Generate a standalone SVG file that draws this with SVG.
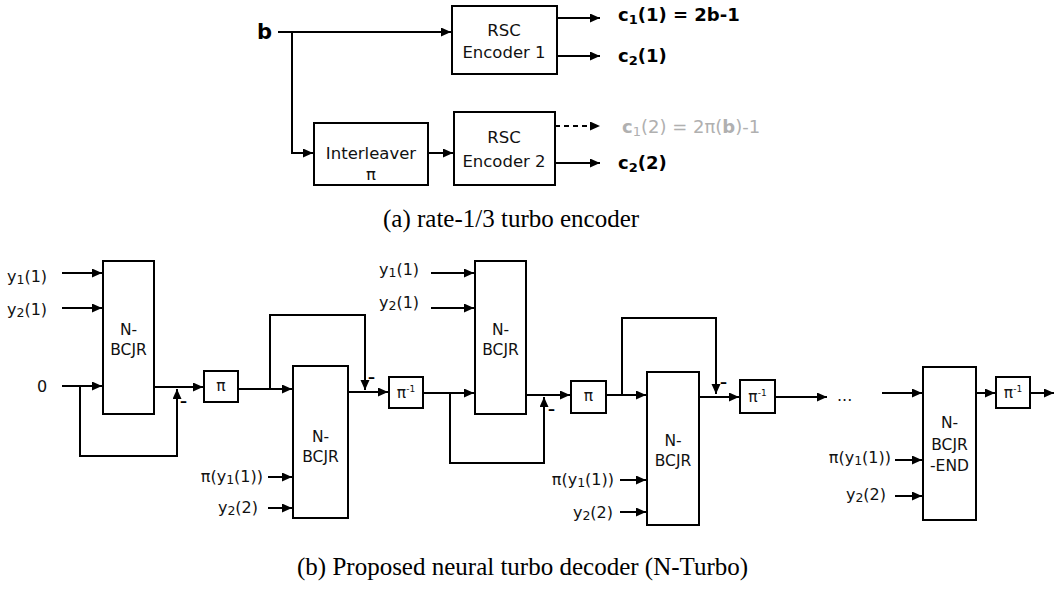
<svg xmlns="http://www.w3.org/2000/svg" width="1055" height="590" viewBox="0 0 1055 590">
<style>
.box{fill:#fff;stroke:#000;stroke-width:2}
.ln{fill:none;stroke:#000;stroke-width:2}
.ar{fill:none;stroke:#000;stroke-width:2;marker-end:url(#ah)}
.dash{fill:none;stroke:#000;stroke-width:2;stroke-dasharray:5 4;marker-end:url(#ah)}
.t{font-family:"DejaVu Sans",sans-serif;font-size:16px;fill:#111}
.tc{font-family:"DejaVu Sans",sans-serif;font-size:15.5px;fill:#111;text-anchor:middle}
.te{font-family:"DejaVu Sans",sans-serif;font-size:16.5px;fill:#111;text-anchor:middle}
.tb{font-family:"DejaVu Sans",sans-serif;font-size:18px;font-weight:bold;fill:#000}
.tg{font-family:"DejaVu Sans",sans-serif;font-size:18px;fill:#b0b0b0}
.tr{font-family:"DejaVu Sans",sans-serif;font-size:16px;fill:#111;text-anchor:end}
.m{font-family:"DejaVu Sans",sans-serif;font-size:14px;font-weight:bold;fill:#000}
.cap{font-family:"Liberation Serif",serif;font-size:25px;fill:#000}
</style>
<defs>
<marker id="ah" markerUnits="userSpaceOnUse" markerWidth="12" markerHeight="10" refX="10" refY="4.5" orient="auto">
<path d="M0,0 L10,4.5 L0,9 z" fill="#000"/>
</marker>
</defs>

<g id="connectors">
<path class="ar" d="M278,32 H451"/>
<path class="ar" d="M292,32 V153 H313"/>
<path class="ar" d="M428,153 H453"/>
<path class="ar" d="M557,18 H600"/>
<path class="ar" d="M557,56 H600"/>
<path class="dash" d="M555,126 H600"/>
<path class="ar" d="M555,163 H600"/>
<path class="ar" d="M62,273 H102"/>
<path class="ar" d="M62,308 H102"/>
<path class="ar" d="M62,386 H102"/>
<path class="ar" d="M80,386 V456 H177 V389"/>
<path class="ar" d="M154,387 H203"/>
<path class="ar" d="M238,389 H292"/>
<path class="ar" d="M270,389 V315 H365 V390"/>
<path class="ar" d="M268,477 H292"/>
<path class="ar" d="M268,508 H292"/>
<path class="ar" d="M345,392 H388"/>
<path class="ar" d="M423,393 H474"/>
<path class="ar" d="M450,393 V463 H544 V397"/>
<path class="ar" d="M431,273 H474"/>
<path class="ar" d="M431,308 H474"/>
<path class="ar" d="M526,395 H570"/>
<path class="ar" d="M606,395 H646"/>
<path class="ar" d="M622,395 V318 H716 V394"/>
<path class="ar" d="M620,480 H646"/>
<path class="ar" d="M620,512 H646"/>
<path class="ar" d="M697,397 H739"/>
<path class="ar" d="M775,397 H827"/>
<path class="ar" d="M882,393 H922"/>
<path class="ar" d="M895,460 H922"/>
<path class="ar" d="M895,496 H922"/>
<path class="ar" d="M976,393 H995"/>
<path class="ar" d="M1030,393 H1054"/>
</g>

<g id="enc-labels">
<text class="tb" x="257" y="39" style="font-size:21px">b</text>
<text class="tb" x="618" y="21">c<tspan font-size="13" dy="3">1</tspan><tspan dy="-3">(1) = 2b-1</tspan></text>
<text class="tb" x="618" y="62">c<tspan font-size="13" dy="3">2</tspan><tspan dy="-3">(1)</tspan></text>
<text class="tg" x="622" y="133"><tspan font-weight="bold">c</tspan><tspan font-size="13" dy="3">1</tspan><tspan dy="-3">(2) = 2π(</tspan><tspan font-weight="bold">b</tspan>)-1</text>
<text class="tb" x="618" y="169">c<tspan font-size="13" dy="3">2</tspan><tspan dy="-3">(2)</tspan></text>
</g>

<g id="rsc1">
<rect class="box" x="452" y="6" width="105" height="68"/>
<text class="te" x="504" y="36">RSC</text>
<text class="te" x="504" y="58">Encoder 1</text>
</g>
<g id="interleaver">
<rect class="box" x="314" y="123" width="114" height="62"/>
<text class="te" x="371" y="159">Interleaver</text>
<text class="te" x="371" y="180">π</text>
</g>
<g id="rsc2">
<rect class="box" x="454" y="112" width="101" height="73"/>
<text class="te" x="504" y="143">RSC</text>
<text class="te" x="504" y="167">Encoder 2</text>
</g>

<text class="cap" x="383" y="227">(a) rate-1/3 turbo encoder</text>

<g id="dec-inputs">
<text class="t" x="7" y="282">y<tspan font-size="12.5" dy="2">1</tspan><tspan dy="-2">(1)</tspan></text>
<text class="t" x="7" y="315">y<tspan font-size="12.5" dy="2">2</tspan><tspan dy="-2">(1)</tspan></text>
<text class="t" x="37" y="392">0</text>
<text class="tr" x="263" y="482">π(y<tspan font-size="12.5" dy="2">1</tspan><tspan dy="-2">(1))</tspan></text>
<text class="tr" x="258" y="513">y<tspan font-size="12.5" dy="2">2</tspan><tspan dy="-2">(2)</tspan></text>
<text class="t" x="379" y="275">y<tspan font-size="12.5" dy="2">1</tspan><tspan dy="-2">(1)</tspan></text>
<text class="t" x="379" y="308">y<tspan font-size="12.5" dy="2">2</tspan><tspan dy="-2">(1)</tspan></text>
<text class="tr" x="614" y="485">π(y<tspan font-size="12.5" dy="2">1</tspan><tspan dy="-2">(1))</tspan></text>
<text class="tr" x="613" y="518">y<tspan font-size="12.5" dy="2">2</tspan><tspan dy="-2">(2)</tspan></text>
<text class="tr" x="891" y="463">π(y<tspan font-size="12.5" dy="2">1</tspan><tspan dy="-2">(1))</tspan></text>
<text class="tr" x="886" y="500">y<tspan font-size="12.5" dy="2">2</tspan><tspan dy="-2">(2)</tspan></text>
<text class="t" x="837" y="401">...</text>
<text class="m" x="180" y="406">–</text>
<text class="m" x="368" y="382">–</text>
<text class="m" x="548" y="414">–</text>
<text class="m" x="720" y="387">–</text>
</g>

<g id="nbcjr1">
<rect class="box" x="103" y="261" width="51" height="153"/>
<text class="tc" x="128.5" y="335">N-</text>
<text class="tc" x="128.5" y="355">BCJR</text>
</g>
<g id="pi1">
<rect class="box" x="204" y="371" width="34" height="31"/>
<text class="tc" x="221" y="391">π</text>
</g>
<g id="nbcjr2">
<rect class="box" x="293" y="366" width="55" height="152"/>
<text class="tc" x="320.5" y="442">N-</text>
<text class="tc" x="320.5" y="462">BCJR</text>
</g>
<g id="pinv1">
<rect class="box" x="389" y="377" width="34" height="31"/>
<text class="tc" x="406" y="398">π<tspan font-size="9" dy="-6">-1</tspan></text>
</g>
<g id="nbcjr3">
<rect class="box" x="475" y="261" width="51" height="153"/>
<text class="tc" x="500.5" y="335">N-</text>
<text class="tc" x="500.5" y="355">BCJR</text>
</g>
<g id="pi2">
<rect class="box" x="571" y="381" width="35" height="32"/>
<text class="tc" x="588.5" y="401">π</text>
</g>
<g id="nbcjr4">
<rect class="box" x="647" y="372" width="52" height="153"/>
<text class="tc" x="673" y="446">N-</text>
<text class="tc" x="673" y="466">BCJR</text>
</g>
<g id="pinv2">
<rect class="box" x="740" y="380" width="35" height="33"/>
<text class="tc" x="757.5" y="402">π<tspan font-size="9" dy="-6">-1</tspan></text>
</g>
<g id="nbcjr-end">
<rect class="box" x="923" y="367" width="53" height="153"/>
<text class="tc" x="949.5" y="428">N-</text>
<text class="tc" x="949.5" y="450">BCJR</text>
<text class="tc" x="949.5" y="471">-END</text>
</g>
<g id="pinv3">
<rect class="box" x="996" y="377" width="34" height="31"/>
<text class="tc" x="1013" y="398">π<tspan font-size="9" dy="-6">-1</tspan></text>
</g>

<text class="cap" x="297" y="575">(b) Proposed neural turbo decoder (N-Turbo)</text>
</svg>
